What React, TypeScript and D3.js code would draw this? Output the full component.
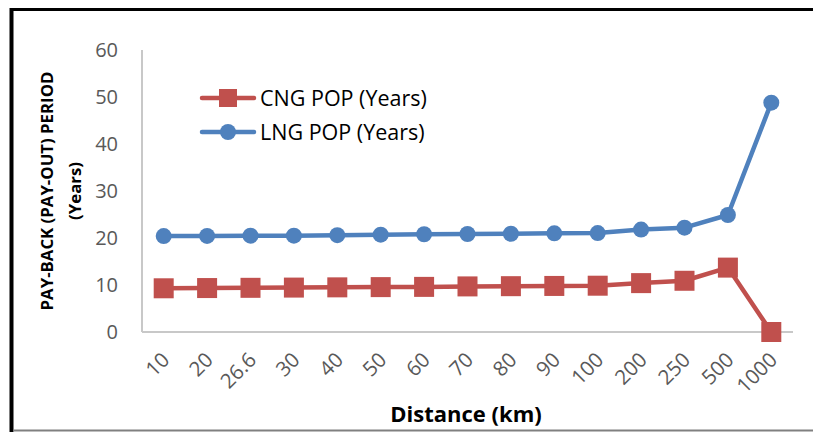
import React from "react";
import * as d3 from "d3";

const categories = ["10", "20", "26.6", "30", "40", "50", "60", "70", "80", "90", "100", "200", "250", "500", "1000"];
const cngValues = [9.3, 9.35, 9.4, 9.45, 9.5, 9.55, 9.6, 9.7, 9.75, 9.8, 9.85, 10.4, 10.9, 13.7, 0];
const lngValues = [20.4, 20.45, 20.5, 20.5, 20.6, 20.7, 20.8, 20.85, 20.9, 21.0, 21.05, 21.8, 22.2, 24.9, 48.8];
const yTicks = [0, 10, 20, 30, 40, 50, 60];

const CNG_COLOR = "#C0504D";
const LNG_COLOR = "#4F81BD";
const FONT = "'Open Sans', 'Noto Sans', sans-serif";

export default function App() {
  const W = 816, H = 432;
  const left = 142, right = 793, top = 50, bottom = 332;
  const x = d3.scaleBand<string>().domain(categories).range([left, right]);
  const y = d3.scaleLinear().domain([0, 60]).range([bottom, top]);
  const cx = (c: string) => (x(c) as number) + x.bandwidth() / 2;

  const line = d3.line<number>().x((_, i) => cx(categories[i])).y((v) => y(v));

  return (
    <svg width={W} height={H} style={{ position: "absolute", left: 0, top: 0, background: "#fff" }} fontFamily={FONT}>
      <rect x={0} y={0} width={W} height={H} fill="#fff" />
      {/* outer frame */}
      <line x1={11.5} y1={9.5} x2={813} y2={9.5} stroke="#000" strokeWidth={3} />
      <line x1={11.5} y1={8} x2={11.5} y2={432} stroke="#000" strokeWidth={4} />
      <line x1={13} y1={430.5} x2={813} y2={430.5} stroke="#808080" strokeWidth={2} />

      {/* axes */}
      <line x1={left} y1={top} x2={left} y2={bottom} stroke="#c8c8c8" strokeWidth={2} />
      <line x1={left} y1={bottom} x2={right} y2={bottom} stroke="#c8c8c8" strokeWidth={2} />

      {yTicks.map((t) => (
        <text key={t} x={118} y={y(t)} dy="0.36em" textAnchor="end" fontSize={20} fill="#595959">
          {t}
        </text>
      ))}

      {categories.map((c) => (
        <text
          key={c}
          transform={`translate(${cx(c) - 3},${351}) rotate(-45)`}
          textAnchor="end"
          dy="0.7em"
          fontSize={20.5}
          fill="#595959"
        >
          {c}
        </text>
      ))}

      {/* y axis title */}
      <text transform={`translate(47,191) rotate(-90)`} textAnchor="middle" dy="0.36em" fontSize={16.8} fontWeight="bold" fill="#000">
        PAY-BACK (PAY-OUT) PERIOD
      </text>
      <text transform={`translate(75,191) rotate(-90)`} textAnchor="middle" dy="0.36em" fontSize={16.8} fontWeight="bold" fill="#000">
        (Years)
      </text>

      {/* x axis title */}
      <text x={466} y={422} textAnchor="middle" fontSize={22} fontWeight="bold" fill="#000">
        Distance (km)
      </text>

      {/* series */}
      <path d={line(lngValues) || ""} fill="none" stroke={LNG_COLOR} strokeWidth={4.5} strokeLinejoin="round" strokeLinecap="round" />
      {lngValues.map((v, i) => (
        <circle key={i} cx={cx(categories[i])} cy={y(v)} r={8} fill={LNG_COLOR} />
      ))}
      <path d={line(cngValues) || ""} fill="none" stroke={CNG_COLOR} strokeWidth={4.5} strokeLinejoin="round" strokeLinecap="round" />
      {cngValues.map((v, i) => (
        <rect key={i} x={cx(categories[i]) - 10} y={y(v) - 10} width={20} height={20} fill={CNG_COLOR} />
      ))}

      {/* legend */}
      <line x1={202} y1={98} x2={254} y2={98} stroke={CNG_COLOR} strokeWidth={4.5} strokeLinecap="round" />
      <rect x={219} y={89} width={18} height={18} fill={CNG_COLOR} />
      <text x={260} y={98} dy="0.36em" fontSize={21.5} fill="#000">CNG POP (Years)</text>
      <line x1={202} y1={132} x2={254} y2={132} stroke={LNG_COLOR} strokeWidth={4.5} strokeLinecap="round" />
      <circle cx={228} cy={132} r={8} fill={LNG_COLOR} />
      <text x={260} y={132} dy="0.36em" fontSize={21.5} fill="#000">LNG POP (Years)</text>
    </svg>
  );
}
